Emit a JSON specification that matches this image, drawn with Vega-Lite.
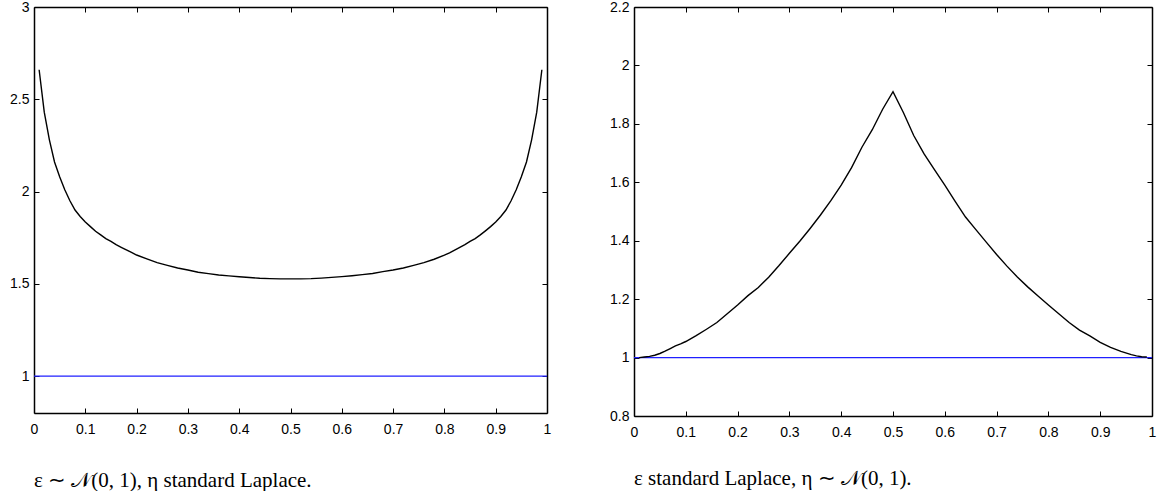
{
  "$schema": "https://vega.github.io/schema/vega-lite/v6.json",
  "background": "white",
  "padding": {"left": 9, "top": 0, "right": 5, "bottom": 0},
  "spacing": 58,
  "datasets": {
    "left": [
      {"x":0.01,"y":2.66},{"x":0.02,"y":2.43},{"x":0.03,"y":2.28},{"x":0.04,"y":2.16},{"x":0.05,"y":2.08},
      {"x":0.06,"y":2.01},{"x":0.07,"y":1.95},{"x":0.08,"y":1.9},{"x":0.09,"y":1.865},{"x":0.1,"y":1.835},
      {"x":0.11,"y":1.81},{"x":0.12,"y":1.785},{"x":0.13,"y":1.765},{"x":0.14,"y":1.745},{"x":0.15,"y":1.73},
      {"x":0.16,"y":1.712},{"x":0.17,"y":1.698},{"x":0.18,"y":1.684},{"x":0.19,"y":1.67},{"x":0.2,"y":1.656},
      {"x":0.22,"y":1.635},{"x":0.24,"y":1.615},{"x":0.26,"y":1.6},{"x":0.28,"y":1.586},{"x":0.3,"y":1.575},
      {"x":0.32,"y":1.563},{"x":0.34,"y":1.555},{"x":0.36,"y":1.548},{"x":0.38,"y":1.543},{"x":0.4,"y":1.538},
      {"x":0.42,"y":1.534},{"x":0.44,"y":1.53},{"x":0.46,"y":1.528},{"x":0.48,"y":1.527},{"x":0.5,"y":1.527},
      {"x":0.52,"y":1.527},{"x":0.54,"y":1.528},{"x":0.56,"y":1.531},{"x":0.58,"y":1.535},{"x":0.6,"y":1.539},
      {"x":0.62,"y":1.544},{"x":0.64,"y":1.55},{"x":0.66,"y":1.556},{"x":0.68,"y":1.566},{"x":0.7,"y":1.575},
      {"x":0.72,"y":1.586},{"x":0.74,"y":1.6},{"x":0.76,"y":1.615},{"x":0.78,"y":1.633},{"x":0.8,"y":1.655},
      {"x":0.81,"y":1.668},{"x":0.82,"y":1.683},{"x":0.83,"y":1.698},{"x":0.84,"y":1.712},{"x":0.85,"y":1.73},
      {"x":0.86,"y":1.745},{"x":0.87,"y":1.765},{"x":0.88,"y":1.787},{"x":0.89,"y":1.81},{"x":0.9,"y":1.835},
      {"x":0.91,"y":1.865},{"x":0.92,"y":1.9},{"x":0.93,"y":1.95},{"x":0.94,"y":2.01},{"x":0.95,"y":2.08},
      {"x":0.96,"y":2.16},{"x":0.97,"y":2.28},{"x":0.98,"y":2.43},{"x":0.99,"y":2.66}
    ],
    "right": [
      {"x":0.01,"y":1.0},{"x":0.02,"y":1.002},{"x":0.03,"y":1.004},{"x":0.04,"y":1.008},{"x":0.05,"y":1.014},
      {"x":0.06,"y":1.022},{"x":0.07,"y":1.031},{"x":0.08,"y":1.04},{"x":0.09,"y":1.047},{"x":0.1,"y":1.055},
      {"x":0.12,"y":1.075},{"x":0.14,"y":1.097},{"x":0.16,"y":1.12},{"x":0.18,"y":1.15},{"x":0.2,"y":1.18},
      {"x":0.22,"y":1.212},{"x":0.24,"y":1.24},{"x":0.26,"y":1.275},{"x":0.28,"y":1.315},{"x":0.3,"y":1.357},
      {"x":0.32,"y":1.398},{"x":0.34,"y":1.442},{"x":0.36,"y":1.488},{"x":0.38,"y":1.537},{"x":0.4,"y":1.59},
      {"x":0.42,"y":1.65},{"x":0.44,"y":1.72},{"x":0.46,"y":1.78},{"x":0.48,"y":1.85},{"x":0.5,"y":1.91},
      {"x":0.52,"y":1.839},{"x":0.54,"y":1.76},{"x":0.56,"y":1.697},{"x":0.58,"y":1.643},{"x":0.6,"y":1.59},
      {"x":0.62,"y":1.535},{"x":0.64,"y":1.481},{"x":0.66,"y":1.438},{"x":0.68,"y":1.395},{"x":0.7,"y":1.353},
      {"x":0.72,"y":1.313},{"x":0.74,"y":1.276},{"x":0.76,"y":1.242},{"x":0.78,"y":1.211},{"x":0.8,"y":1.18},
      {"x":0.82,"y":1.15},{"x":0.84,"y":1.12},{"x":0.86,"y":1.094},{"x":0.88,"y":1.074},{"x":0.9,"y":1.052},
      {"x":0.92,"y":1.035},{"x":0.94,"y":1.021},{"x":0.96,"y":1.01},{"x":0.97,"y":1.006},{"x":0.98,"y":1.003},
      {"x":0.99,"y":1.002}
    ],
    "base": [{"x":0,"y":1},{"x":1,"y":1}]
  },
  "hconcat": [
    {
      "width": 513,
      "height": 406,
      "title": {"text": "ε ∼ 𝒩(0, 1), η standard Laplace.", "orient": "bottom", "anchor": "start", "frame": "group", "offset": 34},
      "layer": [
        {
          "data": {"name": "base"},
          "mark": {"type": "line", "color": "#2020ff", "strokeWidth": 1.2},
          "encoding": {
            "x": {"field": "x", "type": "quantitative", "scale": {"domain": [0, 1], "nice": false},
                  "axis": {"orient": "bottom", "values": [0,0.1,0.2,0.3,0.4,0.5,0.6,0.7,0.8,0.9,1], "format": "~g", "labelPadding": 14}},
            "y": {"field": "y", "type": "quantitative", "scale": {"domain": [0.8, 3], "nice": false, "zero": false},
                  "axis": {"orient": "left", "values": [1,1.5,2,2.5,3], "format": "~g"}}
          }
        },
        {
          "data": {"name": "left"},
          "mark": {"type": "line", "color": "black", "strokeWidth": 1.4},
          "encoding": {
            "x": {"field": "x", "type": "quantitative", "scale": {"domain": [0, 1], "nice": false},
                  "axis": {"orient": "top", "values": [0,0.1,0.2,0.3,0.4,0.5,0.6,0.7,0.8,0.9,1], "labels": false}},
            "y": {"field": "y", "type": "quantitative", "scale": {"domain": [0.8, 3], "nice": false, "zero": false},
                  "axis": {"orient": "right", "values": [1,1.5,2,2.5,3], "labels": false}}
          }
        }
      ],
      "resolve": {"axis": {"x": "independent", "y": "independent"}}
    },
    {
      "width": 518,
      "height": 409,
      "title": {"text": "ε standard Laplace, η ∼ 𝒩(0, 1).", "orient": "bottom", "anchor": "start", "frame": "group", "offset": 29},
      "layer": [
        {
          "data": {"name": "base"},
          "mark": {"type": "line", "color": "#2020ff", "strokeWidth": 1.2},
          "encoding": {
            "x": {"field": "x", "type": "quantitative", "scale": {"domain": [0, 1], "nice": false},
                  "axis": {"orient": "bottom", "values": [0,0.1,0.2,0.3,0.4,0.5,0.6,0.7,0.8,0.9,1], "format": "~g", "labelPadding": 14}},
            "y": {"field": "y", "type": "quantitative", "scale": {"domain": [0.8, 2.2], "nice": false, "zero": false},
                  "axis": {"orient": "left", "values": [0.8,1,1.2,1.4,1.6,1.8,2,2.2], "format": "~g"}}
          }
        },
        {
          "data": {"name": "right"},
          "mark": {"type": "line", "color": "black", "strokeWidth": 1.4},
          "encoding": {
            "x": {"field": "x", "type": "quantitative", "scale": {"domain": [0, 1], "nice": false},
                  "axis": {"orient": "top", "values": [0,0.1,0.2,0.3,0.4,0.5,0.6,0.7,0.8,0.9,1], "labels": false}},
            "y": {"field": "y", "type": "quantitative", "scale": {"domain": [0.8, 2.2], "nice": false, "zero": false},
                  "axis": {"orient": "right", "values": [0.8,1,1.2,1.4,1.6,1.8,2,2.2], "labels": false}}
          }
        }
      ],
      "resolve": {"axis": {"x": "independent", "y": "independent"}}
    }
  ],
  "config": {
    "view": {"stroke": null},
    "axis": {
      "title": null,
      "grid": false,
      "domainColor": "black",
      "domainWidth": 1.5,
      "tickColor": "black",
      "tickWidth": 1,
      "tickSize": -5,
      "labelFont": "Liberation Sans",
      "labelFontSize": 14,
      "labelColor": "black",
      "labelPadding": 10,
      "labelFlush": false,
      "labelOverlap": false,
      "labelBound": false
    },
    "title": {"font": "Liberation Serif", "fontSize": 21, "fontWeight": "normal", "color": "black"}
  }
}
